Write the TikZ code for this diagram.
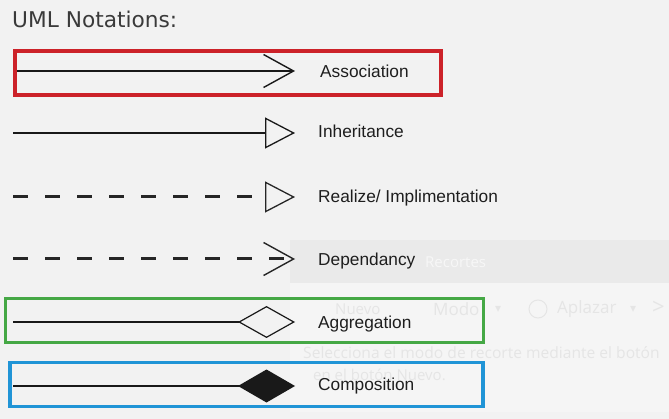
\documentclass[tikz,border=0pt]{standalone}
\usepackage{fontspec}
\setmainfont{Liberation Sans}
\newfontfamily\ttlfont{DejaVu Sans}
\newfontfamily\uifont{Open Sans}
\newfontfamily\symfont{DejaVu Sans}
\usetikzlibrary{arrows.meta}
\definecolor{bg}{HTML}{F2F2F2}
\definecolor{bandc}{HTML}{EAEAEA}
\definecolor{palec}{HTML}{F5F5F5}
\definecolor{faintc}{HTML}{E5E5E5}
\definecolor{redc}{HTML}{CC2229}
\definecolor{greenc}{HTML}{45A845}
\definecolor{bluec}{HTML}{2094D6}
\definecolor{txtc}{HTML}{1E1E1E}
\definecolor{ttlc}{HTML}{3A3A3A}
\begin{document}
\begin{tikzpicture}[x=1pt,y=-1pt,
  lbl/.style={anchor=west,inner sep=0pt,text height=12.5pt,text depth=0pt,text=txtc,font=\fontsize{17.3}{20}\selectfont},
  faint/.style={anchor=west,inner sep=0pt,text=faintc,font=\uifont\fontsize{15}{18}\selectfont},
  hl/.style={draw,line width=3.6pt,minimum width=#1,minimum height=44pt,inner sep=0pt},
  solidline/.style={line width=1.8pt,black!90},
  dashline/.style={line width=3pt,black!85,dash pattern=on 15pt off 17pt},
  assoc/.style={-{Straight Barb[length=30pt,width=33pt,line width=1.4pt]}},
  inherit/.style={-{Triangle[open,length=30pt,width=31pt,line width=1.3pt,fill=bg]}},
  aggr/.style={-{Diamond[open,length=57pt,width=32pt,line width=1.2pt,fill=bg]}},
  compo/.style={-{Diamond[length=57pt,width=33pt]}}
]
\useasboundingbox (0,0) rectangle (669,419);
\fill[bg] (0,0) rectangle (669,419);
% faded overlay window
\fill[bandc] (290,240) rectangle (669,283);
\fill[palec] (290,283) rectangle (669,412);
\node[faint,text=white!97!black] (ovA) at (425,262) {Recortes};
\node[faint] (ovB) at (335,309) {Nuevo};
\node[faint,font=\uifont\fontsize{17}{20}\selectfont] (ovC) at (433,309) {Modo};
\node[faint,font=\symfont\fontsize{12}{14}\selectfont] (ovD) at (495,309) {▾};
\draw[faintc,line width=1pt] (538,309) circle (9pt);
\node[faint,font=\uifont\fontsize{17}{20}\selectfont] (ovE) at (557,309) {Aplazar};
\node[faint,font=\symfont\fontsize{12}{14}\selectfont] (ovF) at (630,309) {▾};
\node[faint,font=\uifont\fontsize{22}{24}\selectfont] (ovG) at (652,308) {>};
\node[faint,font=\uifont\fontsize{15.6}{18}\selectfont] (ovH) at (303,353) {Selecciona el modo de recorte mediante el botón};
\node[faint] (ovI) at (313,375) {en el botón Nuevo.};
% title
\node[anchor=base west,inner sep=0pt,text=ttlc,font=\ttlfont\fontsize{21.7}{24}\selectfont] (title) at (12,27.5) {UML Notations:};
% highlight frames
\node[hl=426pt,draw=redc] (boxA) at (228,73) {};
\node[hl=478pt,draw=greenc] (boxG) at (244.5,320.5) {};
\node[hl=473pt,draw=bluec] (boxC) at (246.5,384.5) {};
% endpoints
\coordinate (s1) at (17,71);   \coordinate (t1) at (295,71);
\coordinate (s2) at (13,133);  \coordinate (t2) at (295,133);
\coordinate (s3) at (13,197);  \coordinate (t3) at (295,197);
\coordinate (s4) at (13,259);  \coordinate (t4) at (295,259);
\coordinate (s5) at (13,322);  \coordinate (t5) at (295,322);
\coordinate (s6) at (13,386);  \coordinate (t6) at (295,386);
% labels
\node[lbl] (l1) at (320,71) {Association};
\node[lbl] (l2) at (318,131) {Inheritance};
\node[lbl] (l3) at (318,196) {Realize/ Implimentation};
\node[lbl] (l4) at (318,259) {Dependancy};
\node[lbl] (l5) at (318,322) {Aggregation};
\node[lbl] (l6) at (318,384) {Composition};
% connectors
\draw[solidline,assoc] (s1) -- (t1);
\draw[solidline,inherit] (s2) -- (t2);
\draw[dashline,inherit] (s3) -- (t3);
\draw[dashline,assoc] (s4) -- (t4);
\draw[solidline,aggr] (s5) -- (t5);
\draw[solidline,compo] (s6) -- (t6);
\end{tikzpicture}
\end{document}
